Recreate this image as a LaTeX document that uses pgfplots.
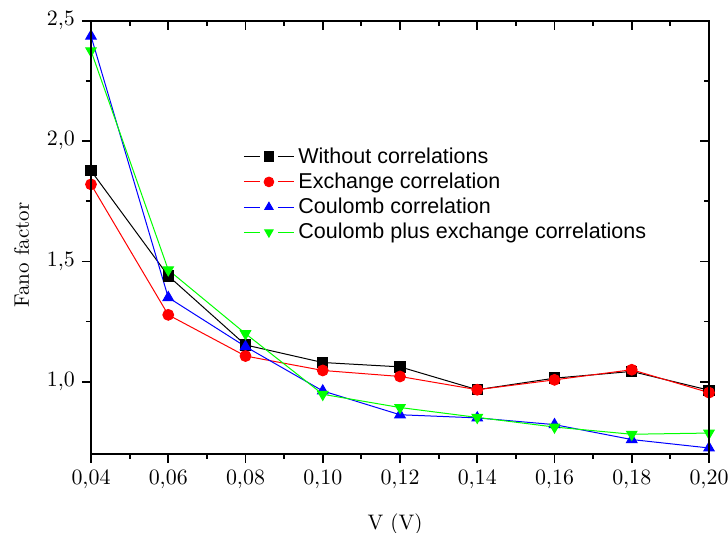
\documentclass[border=0pt]{standalone}
\usepackage{fontspec}
\usepackage{pgfplots}
\pgfplotsset{compat=1.18}
\newfontfamily\arial{Liberation Sans}
\definecolor{ogreen}{RGB}{0,255,0}
\definecolor{ored}{RGB}{255,0,0}
\definecolor{oblue}{RGB}{0,0,255}
\begin{document}
\begin{tikzpicture}
\pgfplotsset{
  common/.style={
    scale only axis, width=309pt, height=216.65pt,
    xmin=0.04, xmax=0.20, ymin=0.7, ymax=2.5,
    xtick={0.04,0.06,...,0.201}, ytick={1.0,1.5,2.0,2.5},
    minor x tick num=1, minor y tick num=1,
    major tick length=4.5pt, minor tick length=2.5pt,
    every tick/.style={black, line width=0.9pt},
    axis line style={line width=1pt},
    tick label style={font=\fontsize{10.5}{12}\selectfont},
  }
}
\begin{axis}[common,
    tick align=outside, xtick pos=bottom, ytick pos=left,
    clip=false,
    xticklabel style={/pgf/number format/.cd, use comma, fixed, fixed zerofill, precision=2},
    yticklabel style={/pgf/number format/.cd, use comma, fixed, fixed zerofill, precision=1},
    xlabel={V (V)}, ylabel={Fano factor},
    label style={font=\fontsize{10.5}{12}\selectfont},
    xlabel style={at={(axis description cs:0.492,-0.163)}, anchor=center},
    ylabel style={at={(axis description cs:-0.1125,0.459)}, anchor=center, rotate=0},
    every axis plot/.append style={line width=0.5pt, mark size=2.7pt},
    legend style={draw=none, fill=none, at={(0.246,0.716)}, anchor=north west,
      inner sep=0pt, row sep=0pt, font=\arial\fontsize{10.75}{12.5}\selectfont,
      nodes={inner ysep=1.65pt, inner xsep=2pt}},
    legend cell align=left,
    legend image code/.code={
      \draw[#1, mark=none] (0pt,0pt) -- (8pt,0pt);
      \draw[#1, mark=none] (17pt,0pt) -- (25pt,0pt);
      \draw[#1, draw=none, mark size=2.4pt] plot coordinates {(12.5pt,0pt)};},
  ]
\addplot[black, mark=square*, mark size=2.6pt] coordinates {
 (0.04,1.877) (0.06,1.44) (0.08,1.153) (0.10,1.08) (0.12,1.062) (0.14,0.967) (0.16,1.015) (0.18,1.043) (0.20,0.965)};
\addlegendentry{Without correlations}
\addplot[ored, mark=*, mark options={fill=ored}] coordinates {
 (0.04,1.82) (0.06,1.278) (0.08,1.107) (0.10,1.047) (0.12,1.022) (0.14,0.967) (0.16,1.008) (0.18,1.05) (0.20,0.955)};
\addlegendentry{Exchange correlation}
\addplot[oblue, mark=triangle*, mark options={fill=oblue}, mark size=3pt] coordinates {
 (0.04,2.436) (0.06,1.35) (0.08,1.146) (0.10,0.962) (0.12,0.863) (0.14,0.85) (0.16,0.822) (0.18,0.76) (0.20,0.725)};
\addlegendentry{Coulomb correlation}
\addplot[ogreen, mark=triangle*, mark options={fill=ogreen, rotate=180}, mark size=3pt] coordinates {
 (0.04,2.375) (0.06,1.465) (0.08,1.20) (0.10,0.948) (0.12,0.893) (0.14,0.852) (0.16,0.812) (0.18,0.782) (0.20,0.787)};
\addlegendentry{Coulomb plus exchange correlations}
\end{axis}
\begin{axis}[common,
    tick align=inside, xtick pos=top, ytick pos=right,
    xticklabels={}, yticklabels={},
  ]
\end{axis}
\pgfresetboundingbox
\path (-45.5pt,-39.5pt) rectangle (318.5pt,227pt);
\end{tikzpicture}
\end{document}
